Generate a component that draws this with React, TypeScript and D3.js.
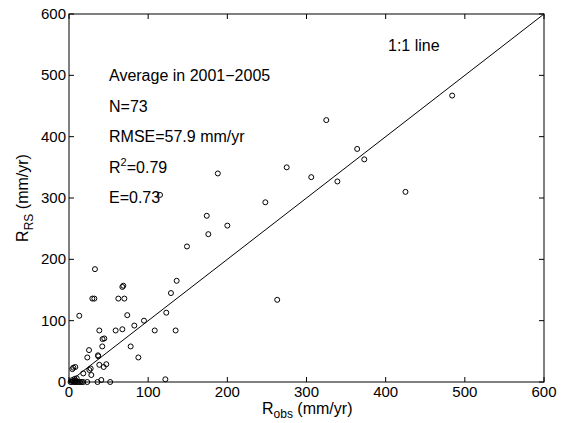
import React from 'react';
import * as d3 from 'd3';

const obs = [
  325, 364, 373, 275, 306, 339, 425, 188, 248, 174, 200, 176, 263, 484, 115, 149,
  32.8, 13, 29.5, 32, 67.4, 68.6, 62.3, 69.9, 136, 128.8, 122.9, 73.6, 94.7, 82.5,
  38.3, 58.9, 67.4, 108.3, 134.7, 42.4, 44.6, 42, 77.9, 25.3, 23.1, 36.6, 37, 87.6,
  38.3, 47.1, 43.8, 5.5, 8, 4.2, 27.4, 25.7, 18, 28.2, 9.7, 40.8, 121.7,
  2, 3.5, 5, 6.5, 8, 9, 10, 12, 14, 16, 18, 23, 36, 52, 4, 7,
];
const rs = [
  427, 380, 363, 350, 334, 327, 310, 340, 293, 271, 255, 241, 134, 467, 305, 221,
  184, 108, 136, 136, 155, 157, 136, 136, 165, 145, 113, 109, 100, 92,
  84, 84, 86, 84, 84, 70, 71, 58, 58, 52, 40, 43.5, 42, 40,
  28, 29, 24.5, 23.4, 24.5, 21, 22, 19.6, 14, 11.4, 6, 3.3, 4.4,
  0, 0, 1, 0, 0, 2, 0, 0, 0, 0, 0, 0, 0, 0, 3, 5,
];
const ticks = [0, 100, 200, 300, 400, 500, 600];
const notes = ['Average in 2001\u22122005', 'N=73', 'RMSE=57.9 mm/yr'];

const App = () => {
  const left = 69, right = 544, top = 14, bottom = 382;
  const x = d3.scaleLinear().domain([0, 600]).range([left, right]);
  const y = d3.scaleLinear().domain([0, 600]).range([bottom, top]);
  const font = "'Liberation Sans', Arial, Helvetica, sans-serif";
  const tl = 5;

  return (
    <svg width={565} height={423} style={{ position: 'absolute', left: 0, top: 0, background: '#fff' }}
      fontFamily={font}>
      <rect x={0} y={0} width={565} height={423} fill="#fff" />
      <rect x={left} y={top} width={right - left} height={bottom - top} fill="none" stroke="#000" strokeWidth={1} />
      {ticks.map(t => (
        <g key={'t' + t}>
          <line x1={x(t)} x2={x(t)} y1={bottom} y2={bottom - tl} stroke="#000" />
          <line x1={x(t)} x2={x(t)} y1={top} y2={top + tl} stroke="#000" />
          <line x1={left} x2={left + tl} y1={y(t)} y2={y(t)} stroke="#000" />
          <line x1={right} x2={right - tl} y1={y(t)} y2={y(t)} stroke="#000" />
          <text x={x(t)} y={bottom + 15} textAnchor="middle" fontSize={15}>{t}</text>
          <text x={left - 3} y={y(t) + 5} textAnchor="end" fontSize={15}>{t}</text>
        </g>
      ))}
      <line x1={x(0)} y1={y(0)} x2={x(600)} y2={y(600)} stroke="#000" strokeWidth={1} />
      {obs.map((o, i) => (
        <circle key={i} cx={x(o)} cy={y(rs[i])} r={2.5} fill="none" stroke="#000" strokeWidth={1} />
      ))}
      {notes.map((n, i) => (
        <text key={n} x={109} y={81 + i * 30.5} fontSize={16}>{n}</text>
      ))}
      <text x={109} y={173} fontSize={16}>R<tspan dy={-7} fontSize={11}>2</tspan><tspan dy={7}>=0.79</tspan></text>
      <text x={109} y={203} fontSize={16}>E=0.73</text>
      <text x={388} y={51} fontSize={16}>1:1 line</text>
      <text x={262} y={414} fontSize={16}>R<tspan dy={4} fontSize={12}>obs</tspan><tspan dy={-4}> (mm/yr)</tspan></text>
      <text transform={`translate(28,${(top + bottom) / 2}) rotate(-90)`} textAnchor="middle" fontSize={16}>
        R<tspan dy={5} fontSize={12}>RS</tspan><tspan dy={-5}> (mm/yr)</tspan>
      </text>
    </svg>
  );
};

export default App;
